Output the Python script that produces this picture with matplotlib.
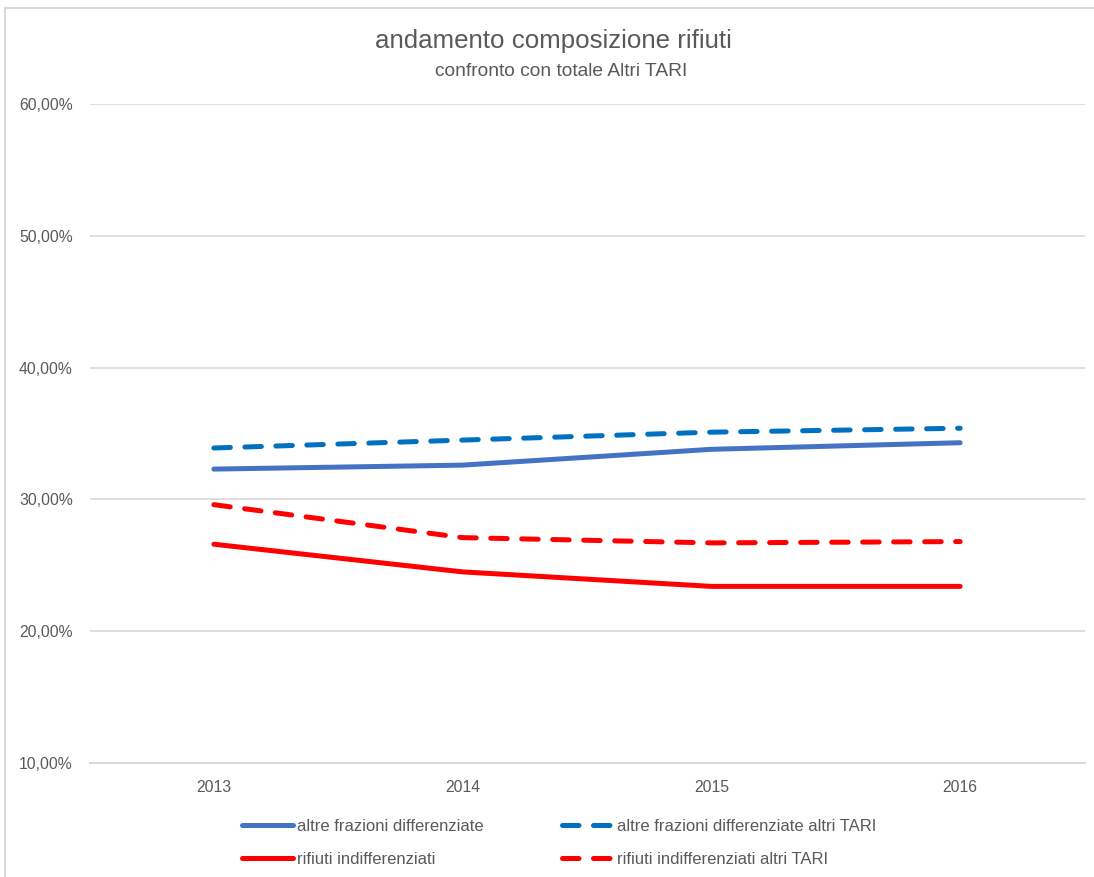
import matplotlib
matplotlib.use('Agg')
import matplotlib.pyplot as plt
from matplotlib.ticker import FuncFormatter
from matplotlib.lines import Line2D

years = ['2013', '2014', '2015', '2016']
altreFrazioni = [0.323, 0.326, 0.338, 0.343]
altreFrazioniTari = [0.339, 0.345, 0.351, 0.354]
rifiutiIndiff = [0.266, 0.245, 0.234, 0.234]
rifiutiIndiffTari = [0.296, 0.271, 0.267, 0.268]

TEXT = '#595959'
GRID = '#D9D9D9'

plt.rcParams['font.family'] = ['Liberation Sans', 'DejaVu Sans']


def pct(v, pos):
    return ('%.2f%%' % (v * 100)).replace('.', ',')


def main():
    fig = plt.figure(figsize=(10.94, 8.77), dpi=100)
    ax = fig.add_axes([89.5 / 1094, 1 - 763 / 877, 995 / 1094, 659 / 877])

    x = list(range(len(years)))
    l1, = ax.plot(x, altreFrazioni, color='#4472C4', lw=3.6, solid_capstyle='round',
                  label='altre frazioni differenziate')
    l2, = ax.plot(x, altreFrazioniTari, color='#0070C0', lw=3.6, dashes=(3.3, 2.9),
                  dash_capstyle='round', label='altre frazioni differenziate altri TARI')
    l3, = ax.plot(x, rifiutiIndiff, color='#FF0000', lw=3.6, solid_capstyle='round',
                  label='rifiuti indifferenziati')
    l4, = ax.plot(x, rifiutiIndiffTari, color='#FF0000', lw=3.6, dashes=(3.3, 2.9),
                  dash_capstyle='round', label='rifiuti indifferenziati altri TARI')

    ax.set_xlim(-0.5, 3.5)
    ax.set_ylim(0.10, 0.60)
    ax.set_xticks(x)
    ax.set_xticklabels(years)
    ax.set_yticks([0.1, 0.2, 0.3, 0.4, 0.5, 0.6])
    ax.yaxis.set_major_formatter(FuncFormatter(pct))
    ax.tick_params(axis='both', length=0, labelsize=11.3, colors=TEXT)
    ax.tick_params(axis='y', pad=12)
    ax.tick_params(axis='x', pad=12)
    ax.grid(axis='y', color=GRID, lw=1.2)
    ax.set_axisbelow(True)
    for side in ['top', 'left', 'right']:
        ax.spines[side].set_visible(False)
    ax.spines['bottom'].set_color(GRID)
    ax.spines['bottom'].set_linewidth(1.5)

    fig.text(553 / 1094, 1 - 41 / 877, 'andamento composizione rifiuti', ha='center', va='center',
             fontsize=18.6, color=TEXT)
    fig.text(561 / 1094, 1 - 71 / 877, 'confronto con totale Altri TARI', ha='center', va='center',
             fontsize=13.8, color=TEXT)

    fig.legend(handles=[l1, l3, l2, l4], ncol=2, loc='center', frameon=False,
               bbox_to_anchor=(559 / 1094, 1 - 843 / 877), fontsize=12,
               labelcolor=TEXT, handlelength=3.05, handletextpad=0.25,
               columnspacing=4.7, labelspacing=1.12)

    fig.add_artist(Line2D([5 / 1094, 1], [1 - 8 / 877, 1 - 8 / 877], color=GRID, lw=1.5,
                          transform=fig.transFigure))
    fig.add_artist(Line2D([5 / 1094, 5 / 1094], [0, 1 - 8 / 877], color=GRID, lw=1.5,
                          transform=fig.transFigure))

    fig.savefig('out.png', dpi=100, facecolor='white')


if __name__ == '__main__':
    main()
